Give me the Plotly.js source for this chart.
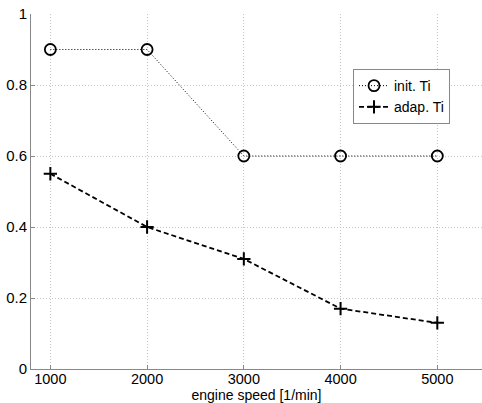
<!DOCTYPE html>
<html>
<head>
<meta charset="utf-8">
<script src="https://cdn.plot.ly/plotly-3.0.1.min.js"></script>
<style>html,body{margin:0;padding:0;background:#fff;}#chart{width:482px;height:403px;}</style>
</head>
<body>
<div id="chart"></div>
<script>
const speeds = [1000, 2000, 3000, 4000, 5000];
const initTi = [0.9, 0.9, 0.6, 0.6, 0.6];
const adapTi = [0.55, 0.40, 0.31, 0.17, 0.13];
const xTicks = [1000, 2000, 3000, 4000, 5000];
const yTicks = [0, 0.2, 0.4, 0.6, 0.8, 1];
const yTickLabels = ['0', '0.2', '0.4', '0.6', '0.8', '1'];

const traces = [
  {
    x: speeds, y: initTi, name: 'init. Ti', type: 'scatter', mode: 'lines+markers',
    line: {color: '#000', width: 1, dash: '1px,2px'},
    marker: {symbol: 'circle-open', size: 11, color: '#000', line: {width: 1.8, color: '#000'}}
  },
  {
    x: speeds, y: adapTi, name: 'adap. Ti', type: 'scatter', mode: 'lines+markers',
    line: {color: '#000', width: 1.8, dash: '5px,3px'},
    marker: {symbol: 'cross-thin-open', size: 9.5, color: '#000', line: {width: 2, color: '#000'}}
  }
];

const layout = {
  width: 482, height: 403,
  margin: {l: 31, r: 0, t: 14, b: 34},
  paper_bgcolor: '#fff', plot_bgcolor: '#fff',
  font: {family: 'Liberation Sans, Arial, sans-serif', size: 15, color: '#000'},
  showlegend: true,
  legend: {
    x: 0.714, y: 0.845, xanchor: 'left', yanchor: 'top',
    bgcolor: '#fff', bordercolor: '#888', borderwidth: 1,
    font: {size: 14}, itemwidth: 30, tracegroupgap: 0
  },
  xaxis: {
    range: [800, 5462], tickvals: xTicks, ticks: 'inside', ticklen: 4, tickcolor: '#888',
    showline: true, linecolor: '#888', linewidth: 1, mirror: false,
    showgrid: true, gridcolor: '#c4c4c4', griddash: '1px,2px', gridwidth: 1, zeroline: false,
    tickfont: {size: 14.5}, ticklabelstandoff: -3,
    title: {text: 'engine speed [1/min]', font: {size: 14}}
  },
  yaxis: {
    range: [0, 1], tickvals: yTicks, ticktext: yTickLabels, ticks: 'inside', ticklen: 4, tickcolor: '#888',
    showline: true, linecolor: '#888', linewidth: 1, mirror: false,
    showgrid: true, gridcolor: '#c4c4c4', griddash: '1px,2px', gridwidth: 1, zeroline: false,
    tickfont: {size: 15}
  }
};

Plotly.newPlot('chart', traces, layout, {displayModeBar: false, staticPlot: true});
</script>
</body>
</html>
